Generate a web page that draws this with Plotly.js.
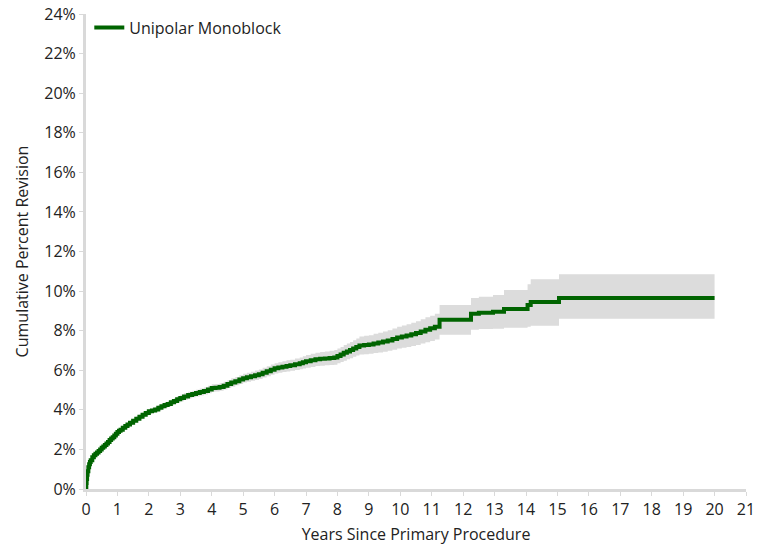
<!DOCTYPE html>
<html><head><meta charset="utf-8">
<script src="https://cdn.plot.ly/plotly-3.0.1.min.js"></script>
<style>html,body{margin:0;padding:0;background:#fff}#chart{width:761px;height:553px}</style>
</head><body><div id="chart"></div>
<script>
const years = [0,0.01,0.02,0.035,0.05,0.075,0.1,0.125,0.15,0.2,0.25,0.3,0.35,0.4,0.45,0.5,0.55,0.6,0.65,0.7,0.75,0.8,0.85,0.9,0.95,1.0,1.05,1.1,1.17,1.25,1.32,1.4,1.5,1.6,1.7,1.8,1.9,2.0,2.1,2.2,2.3,2.4,2.5,2.6,2.7,2.8,2.9,3.0,3.12,3.25,3.38,3.5,3.62,3.75,3.88,4.0,4.12,4.25,4.38,4.5,4.62,4.75,4.88,5.0,5.12,5.25,5.38,5.5,5.62,5.75,5.88,6.0,6.12,6.25,6.38,6.5,6.65,6.8,6.9,7.0,7.15,7.3,7.45,7.6,7.75,7.9,8.0,8.1,8.2,8.3,8.4,8.5,8.6,8.7,8.85,9.0,9.15,9.3,9.45,9.6,9.75,9.9,10.05,10.2,10.35,10.5,10.65,10.8,10.95,11.1,11.25,12.25,12.5,12.95,13.3,14.05,14.15,15.05,20.0];
const revision = [0,0.3,0.5,0.72,0.9,1.1,1.25,1.36,1.45,1.6,1.7,1.78,1.85,1.92,2.0,2.08,2.15,2.22,2.3,2.38,2.47,2.55,2.62,2.7,2.79,2.88,2.94,3.0,3.09,3.18,3.26,3.35,3.45,3.55,3.65,3.75,3.84,3.93,3.97,4.02,4.1,4.18,4.24,4.3,4.38,4.45,4.53,4.6,4.68,4.75,4.8,4.85,4.9,4.95,5.03,5.1,5.12,5.15,5.22,5.3,5.38,5.45,5.53,5.6,5.65,5.7,5.75,5.8,5.88,5.95,6.03,6.1,6.14,6.18,6.22,6.25,6.3,6.35,6.4,6.45,6.5,6.55,6.58,6.6,6.62,6.65,6.72,6.8,6.88,6.95,7.02,7.1,7.18,7.25,7.28,7.3,7.35,7.4,7.45,7.5,7.58,7.65,7.7,7.75,7.82,7.88,7.96,8.05,8.12,8.2,8.55,8.85,8.9,8.95,9.1,9.3,9.45,9.65,9.65];
const lowerCI = [0,0.26,0.45,0.66,0.85,1.04,1.18,1.29,1.38,1.53,1.62,1.7,1.77,1.84,1.92,2.0,2.06,2.13,2.21,2.29,2.38,2.46,2.53,2.6,2.69,2.78,2.84,2.9,2.98,3.07,3.15,3.24,3.34,3.43,3.53,3.62,3.71,3.8,3.84,3.88,3.96,4.04,4.09,4.15,4.23,4.3,4.37,4.44,4.51,4.58,4.63,4.68,4.72,4.77,4.84,4.91,4.93,4.96,5.03,5.1,5.17,5.24,5.31,5.38,5.42,5.47,5.51,5.56,5.63,5.7,5.77,5.84,5.87,5.91,5.94,5.97,6.01,6.05,6.09,6.13,6.17,6.22,6.23,6.25,6.26,6.28,6.35,6.42,6.48,6.55,6.61,6.68,6.74,6.8,6.81,6.83,6.87,6.9,6.94,6.98,7.04,7.1,7.14,7.18,7.23,7.28,7.35,7.42,7.48,7.55,7.8,8.05,8.08,8.1,8.15,8.2,8.25,8.6,8.6];
const upperCI = [0,0.34,0.55,0.78,0.95,1.16,1.32,1.43,1.52,1.67,1.78,1.86,1.93,2.0,2.08,2.16,2.24,2.31,2.39,2.47,2.56,2.64,2.71,2.8,2.89,2.98,3.04,3.1,3.2,3.29,3.37,3.46,3.56,3.67,3.77,3.88,3.97,4.06,4.1,4.16,4.24,4.32,4.39,4.45,4.53,4.6,4.69,4.76,4.85,4.92,4.97,5.02,5.08,5.13,5.22,5.29,5.31,5.34,5.42,5.5,5.59,5.66,5.75,5.82,5.88,5.93,5.99,6.04,6.13,6.2,6.29,6.36,6.41,6.45,6.5,6.53,6.59,6.65,6.71,6.77,6.83,6.88,6.92,6.95,6.98,7.02,7.1,7.18,7.27,7.35,7.43,7.52,7.61,7.7,7.74,7.77,7.84,7.9,7.96,8.02,8.11,8.2,8.26,8.32,8.4,8.48,8.58,8.68,8.76,8.85,9.3,9.65,9.72,9.8,10.05,10.35,10.6,10.85,10.85];
const seriesName = 'Unipolar Monoblock';
const xTicks = [0,1,2,3,4,5,6,7,8,9,10,11,12,13,14,15,16,17,18,19,20,21];
const yTicks = [0,2,4,6,8,10,12,14,16,18,20,22,24];

const pct = a => a.map(v => v/100);
const font = 'Open Sans, Noto Sans, sans-serif';

const traces = [
  {x: years, y: pct(lowerCI), mode:'lines', line:{shape:'hv', width:0, color:'rgba(0,0,0,0)'}, showlegend:false, hoverinfo:'skip'},
  {x: years, y: pct(upperCI), mode:'lines', line:{shape:'hv', width:0, color:'rgba(0,0,0,0)'}, fill:'tonexty', fillcolor:'#dcdcdc', showlegend:false, hoverinfo:'skip'},
  {x: years, y: pct(revision), mode:'lines', name: seriesName, line:{shape:'hv', width:4, color:'#006400'}}
];

const layout = {
  width:761, height:553,
  margin:{l:86, r:15, t:13, b:64},
  paper_bgcolor:'#fff', plot_bgcolor:'#fff',
  font:{family:font, size:16, color:'#222'},
  showlegend:true,
  legend:{x:0.005, y:1.005, xanchor:'left', yanchor:'top', bgcolor:'rgba(0,0,0,0)', font:{size:16, color:'#222'}},
  xaxis:{range:[0,21], tickvals:xTicks, ticktext:xTicks.map(String), showgrid:false, zeroline:false,
         showline:true, linecolor:'#d9d9d9', linewidth:3, ticks:'outside', ticklen:4, tickcolor:'#d9d9d9',
         tickfont:{size:16}, title:{text:'Years Since Primary Procedure', font:{size:16}, standoff:10}},
  yaxis:{range:[0,0.24], tickvals:pct(yTicks), ticktext:yTicks.map(v=>v+'%'), showgrid:false, zeroline:false,
         showline:true, linecolor:'#d9d9d9', linewidth:3, ticks:'outside', ticklen:4, tickcolor:'#d9d9d9',
         tickfont:{size:16}, title:{text:'Cumulative Percent Revision', font:{size:16}, standoff:12}}
};
Plotly.newPlot('chart', traces, layout, {displayModeBar:false, staticPlot:true});
</script></body></html>
